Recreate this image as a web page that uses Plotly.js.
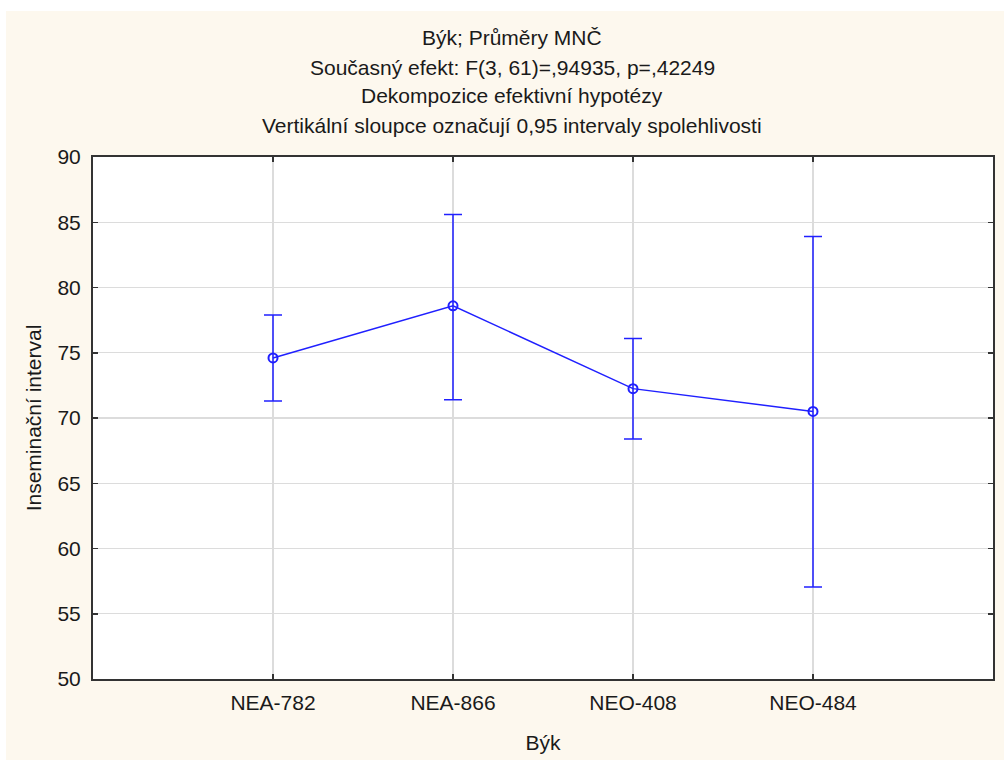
<!DOCTYPE html>
<html>
<head>
<meta charset="utf-8">
<script src="https://cdn.plot.ly/plotly-3.0.1.min.js"></script>
<style>
  html, body { margin: 0; padding: 0; background: #ffffff; width: 1004px; height: 760px; overflow: hidden; }
  #chart { position: absolute; left: 6px; top: 11px; width: 998px; height: 749px; }
</style>
</head>
<body>
<div id="chart"></div>
<script>
const bulls = ["NEA-782", "NEA-866", "NEO-408", "NEO-484"];
const means = [74.6, 78.6, 72.25, 70.5];
const upperCI = [77.9, 85.6, 76.1, 83.9];
const lowerCI = [71.3, 71.4, 68.4, 57.05];
const yTicks = [50, 55, 60, 65, 70, 75, 80, 85, 90];
const titleLines = [
  "Býk; Průměry MNČ",
  "Současný efekt: F(3, 61)=,94935, p=,42249",
  "Dekompozice efektivní hypotézy",
  "Vertikální sloupce označují 0,95 intervaly spolehlivosti"
];
const xTitle = "Býk";
const yTitle = "Inseminační interval";

const FONT = "Liberation Sans, Arial, sans-serif";
const BLUE = "#2020ff";
const TXT = "#1a1a1a";
const FS = 21;

const trace = {
  x: bulls,
  y: means,
  type: "scatter",
  mode: "lines+markers",
  line: { color: BLUE, width: 1.5 },
  marker: { symbol: "circle-open", size: 9, color: BLUE, line: { width: 2, color: BLUE } },
  error_y: {
    type: "data",
    symmetric: false,
    array: upperCI.map((u, i) => u - means[i]),
    arrayminus: lowerCI.map((l, i) => means[i] - l),
    color: BLUE,
    thickness: 1.5,
    width: 9
  },
  hoverinfo: "x+y"
};

const titleY = [1.228, 1.172, 1.117, 1.061];
const annotations = titleLines.map((t, i) => ({
  text: t,
  xref: "paper", yref: "paper",
  x: 0.4656, y: titleY[i],
  xanchor: "center", yanchor: "middle",
  showarrow: false,
  font: { family: FONT, size: FS, color: TXT }
}));

const layout = {
  width: 998,
  height: 749,
  margin: { l: 87, r: 11, t: 146, b: 81 },
  paper_bgcolor: "#fdf8ee",
  plot_bgcolor: "#ffffff",
  showlegend: false,
  font: { family: FONT, size: FS, color: TXT },
  annotations: annotations,
  xaxis: {
    type: "category",
    range: [-1, 4],
    showline: true, linecolor: "#333333", linewidth: 2,
    mirror: "ticks",
    ticks: "inside", ticklen: 5, tickwidth: 1.5, tickcolor: "#333333",
    showgrid: true, gridcolor: "#dcdcdc", gridwidth: 1.2,
    zeroline: false,
    ticklabelstandoff: 4,
    tickfont: { family: FONT, size: FS, color: TXT },
    title: { text: xTitle, font: { family: FONT, size: FS, color: TXT }, standoff: 22 }
  },
  yaxis: {
    range: [50, 90],
    tickvals: yTicks,
    ticktext: yTicks.map(String),
    showline: true, linecolor: "#333333", linewidth: 2,
    mirror: "ticks",
    ticks: "inside", ticklen: 5, tickwidth: 1.5, tickcolor: "#333333",
    showgrid: true, gridcolor: "#dcdcdc", gridwidth: 1.2,
    zeroline: false,
    ticklabelstandoff: 6,
    tickfont: { family: FONT, size: FS, color: TXT },
    title: { text: yTitle, font: { family: FONT, size: FS, color: TXT }, standoff: 10 }
  }
};

Plotly.newPlot("chart", [trace], layout, { displayModeBar: false, staticPlot: true });
</script>
</body>
</html>
